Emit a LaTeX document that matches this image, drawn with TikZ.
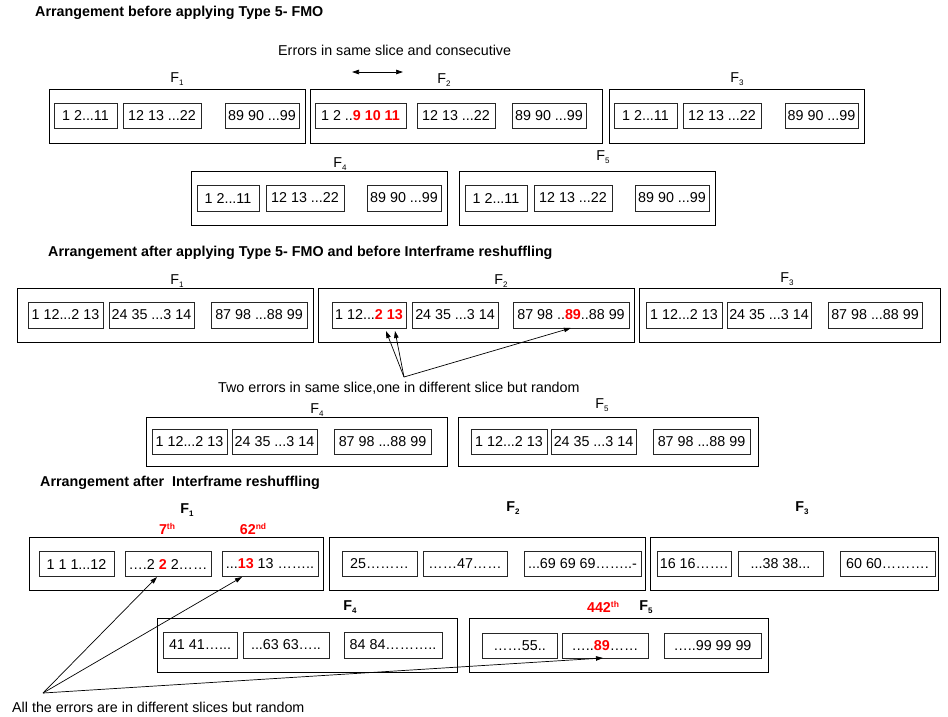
\documentclass[tikz,border=0pt]{standalone}
\usepackage{fontspec}
\setmainfont{Liberation Sans}
\usetikzlibrary{arrows.meta}
\definecolor{errred}{RGB}{255,0,0}
% frame label with a small lowered index
\newcommand\frameno[1]{F\raisebox{-3pt}{\fontsize{8}{8}\selectfont #1}}
% erroneous macroblock numbers
\newcommand\errtxt[1]{\textbf{\textcolor{errred}{#1}}}
% ordinal with raised suffix
\newcommand\ordtxt[2]{#1\raisebox{5pt}{\fontsize{8.5}{8.5}\selectfont #2}}
\begin{document}
\begin{tikzpicture}[x=1pt,y=-1pt,
  every node/.style={font=\fontsize{14.3}{16}\selectfont, inner sep=0pt},
  frm/.style={draw, line width=0.8pt, minimum height=54},
  sl/.style={draw=black!85, line width=0.9pt, minimum height=25},
  ttl/.style={anchor=west, font=\fontsize{14.3}{16}\selectfont\bfseries},
  note/.style={anchor=west},
  blbl/.style={font=\fontsize{14.3}{16}\selectfont\bfseries},
  ordl/.style={font=\fontsize{14.3}{16}\selectfont\bfseries, text=errred},
  arr/.style={line width=0.7pt, -{Triangle[length=7pt,width=4.5pt]}},
  dbl/.style={line width=0.7pt, {Triangle[length=7pt,width=4.5pt]}-{Triangle[length=7pt,width=4.5pt]}},
]
\useasboundingbox (0,0) rectangle (948,716);

% ---------------- before FMO ----------------
\node[ttl] (t1) at (35,13) {Arrangement before applying Type 5- FMO};
\node[note] (n1) at (278,50) {Errors in same slice and consecutive};
\coordinate (d1) at (352,72);
\coordinate (d2) at (403,72);
\draw[dbl] (d1) -- (d2);

\node (lA1) at (177,79) {\frameno{1}};
\node (lA2) at (444,80) {\frameno{2}};
\node (lA3) at (737,79) {\frameno{3}};

\node[frm, minimum width=256] (A1) at (177,116) {};
\node[sl, minimum width=63] (A1a) at (85.5,115.5) {1 2...11};
\node[sl, minimum width=78] (A1b) at (162,115.5) {12 13 ...22};
\node[sl, minimum width=74] (A1c) at (262,115.5) {89 90 ...99};

\node[frm, minimum width=292] (A2) at (456,116) {};
\node[sl, minimum width=91] (A2a) at (360.5,115.5) {1 2 ..\errtxt{9 10 11}};
\node[sl, minimum width=78] (A2b) at (456,115.5) {12 13 ...22};
\node[sl, minimum width=74] (A2c) at (549,115.5) {89 90 ...99};

\node[frm, minimum width=255] (A3) at (736.5,116) {};
\node[sl, minimum width=63] (A3a) at (645.5,115.5) {1 2...11};
\node[sl, minimum width=78] (A3b) at (722,115.5) {12 13 ...22};
\node[sl, minimum width=73] (A3c) at (821.5,115.5) {89 90 ...99};

\node (lA4) at (340,164) {\frameno{4}};
\node (lA5) at (603,157) {\frameno{5}};

\node[frm, minimum width=256] (A4) at (319,198) {};
\node[sl, minimum width=62, minimum height=26] (A4a) at (228,198) {1 2...11};
\node[sl, minimum width=78, minimum height=26] (A4b) at (305,198) {12 13 ...22};
\node[sl, minimum width=74, minimum height=26] (A4c) at (404,198) {89 90 ...99};

\node[frm, minimum width=256] (A5) at (587,198) {};
\node[sl, minimum width=62, minimum height=26] (A5a) at (496,198) {1 2...11};
\node[sl, minimum width=78, minimum height=26] (A5b) at (573,198) {12 13 ...22};
\node[sl, minimum width=74, minimum height=26] (A5c) at (672,198) {89 90 ...99};

% ---------------- after FMO ----------------
\node[ttl] (t2) at (48,253) {Arrangement after applying Type 5- FMO and before Interframe reshuffling};

\node (lB1) at (177,281) {\frameno{1}};
\node (lB2) at (501,281) {\frameno{2}};
\node (lB3) at (787,279) {\frameno{3}};

\node[frm, minimum width=296] (B1) at (165,315) {};
\node[sl, minimum width=75, minimum height=26] (B1a) at (65.5,315) {1 12...2 13};
\node[sl, minimum width=85, minimum height=26] (B1b) at (151.5,315) {24 35 ...3 14};
\node[sl, minimum width=96, minimum height=26] (B1c) at (259,315) {87 98 ...88 99};

\node[frm, minimum width=316] (B2) at (476,315) {};
\node[sl, minimum width=74, minimum height=26] (B2a) at (369,315) {1 12...\errtxt{2 13}};
\node[sl, minimum width=86, minimum height=26] (B2b) at (455,315) {24 35 ...3 14};
\node[sl, minimum width=116, minimum height=26] (B2c) at (571,315) {87 98 ..\errtxt{89}..88 99};

\node[frm, minimum width=301] (B3) at (789.5,315) {};
\node[sl, minimum width=76, minimum height=26] (B3a) at (684,315) {1 12...2 13};
\node[sl, minimum width=84, minimum height=26] (B3b) at (769,315) {24 35 ...3 14};
\node[sl, minimum width=94, minimum height=26] (B3c) at (875,315) {87 98 ...88 99};

\coordinate (e2) at (404,377);
\coordinate (e2a) at (386,331);
\coordinate (e2b) at (395,331);
\coordinate (e2c) at (571,328);
\draw[arr] (e2) -- (e2a);
\draw[arr] (e2) -- (e2b);
\draw[arr] (e2) -- (e2c);
\node[note] (n2) at (218,388) {Two errors in same slice,one in different slice but random};

\node (lB4) at (317,410) {\frameno{4}};
\node (lB5) at (602,405) {\frameno{5}};

\node[frm, minimum width=301, minimum height=49] (B4) at (296.5,441.5) {};
\node[sl, minimum width=75] (B4a) at (189.5,441.5) {1 12...2 13};
\node[sl, minimum width=85] (B4b) at (274.5,441.5) {24 35 ...3 14};
\node[sl, minimum width=97] (B4c) at (382.5,441.5) {87 98 ...88 99};

\node[frm, minimum width=300, minimum height=49] (B5) at (608,441.5) {};
\node[sl, minimum width=76] (B5a) at (509,441.5) {1 12...2 13};
\node[sl, minimum width=85] (B5b) at (593.5,441.5) {24 35 ...3 14};
\node[sl, minimum width=97] (B5c) at (701.5,441.5) {87 98 ...88 99};

% ---------------- after reshuffling ----------------
\node[ttl] (t3) at (40,483) {Arrangement after~ Interframe reshuffling};

\node[blbl] (lC1) at (187,510) {\frameno{1}};
\node[blbl] (lC2) at (513,508) {\frameno{2}};
\node[blbl] (lC3) at (802,508) {\frameno{3}};
\node[ordl] (o1) at (167,529) {\ordtxt{7}{th}};
\node[ordl] (o2) at (253,529) {\ordtxt{62}{nd}};

\node[frm, minimum width=294, minimum height=53] (C1) at (176,563.5) {};
\node[sl, minimum width=75] (C1a) at (76.5,564) {1 1 1...12};
\node[sl, minimum width=86] (C1b) at (168,564) {….2 \errtxt{2} 2……};
\node[sl, minimum width=96] (C1c) at (270,564) {...\errtxt{13} 13 ……..};

\node[frm, minimum width=316, minimum height=53] (C2) at (487,563.5) {};
\node[sl, minimum width=75] (C2a) at (379.5,564) {25………};
\node[sl, minimum width=84] (C2b) at (465,564) {……47……};
\node[sl, minimum width=117] (C2c) at (582.5,564) {...69 69 69……..-};

\node[frm, minimum width=288, minimum height=53] (C3) at (794,563.5) {};
\node[sl, minimum width=74] (C3a) at (694,564) {16 16…….};
\node[sl, minimum width=85] (C3b) at (780.5,564) {...38 38...};
\node[sl, minimum width=95] (C3c) at (887.5,564) {60 60……….};

\node[blbl] (lC4) at (350,607) {\frameno{4}};
\node[blbl] (lC5) at (646,607) {\frameno{5}};
\node[ordl] (o3) at (603,607) {\ordtxt{442}{th}};

\node[frm, minimum width=300] (C4) at (307,645) {};
\node[sl, minimum width=74, minimum height=26] (C4a) at (200,645) {41 41…...};
\node[sl, minimum width=86, minimum height=26] (C4b) at (286,645) {...63 63…..};
\node[sl, minimum width=98, minimum height=26] (C4c) at (393,645) {84 84………..};

\node[frm, minimum width=299] (C5) at (618.5,645) {};
\node[sl, minimum width=75] (C5a) at (519.5,645.5) {……55..};
\node[sl, minimum width=86] (C5b) at (605,645.5) {…..\errtxt{89}……};
\node[sl, minimum width=97] (C5c) at (712.5,645.5) {…..99 99 99};

\coordinate (e3) at (43,693);
\coordinate (e3a) at (157,577);
\coordinate (e3b) at (242,577);
\coordinate (e3c) at (603,658);
\draw[arr] (e3) -- (e3a);
\draw[arr] (e3) -- (e3b);
\draw[arr] (e3) -- (e3c);
\node[note] (n3) at (12,707) {All the errors are in different slices but random};

\end{tikzpicture}
\end{document}
